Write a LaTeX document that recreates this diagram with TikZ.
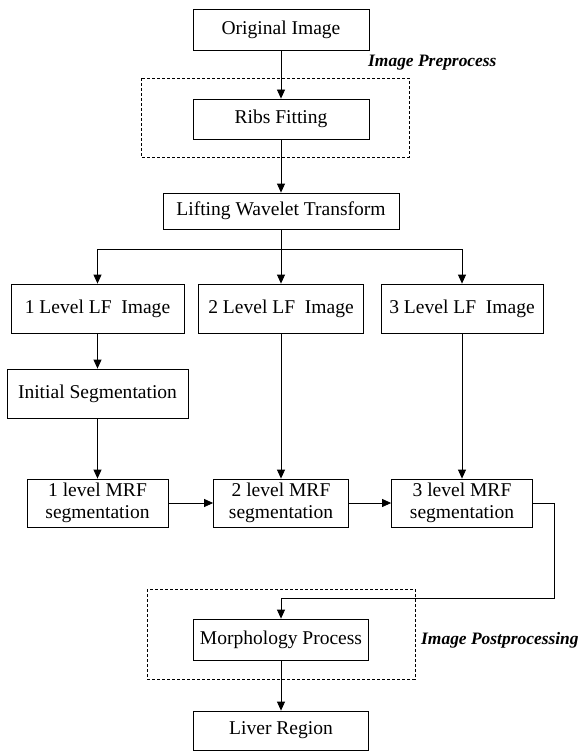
\documentclass[tikz,border=0pt]{standalone}
\usepackage{fontspec}
\setmainfont{Liberation Serif}
\usetikzlibrary{arrows.meta}
\tikzset{
  box/.style={draw, line width=0.8bp, inner sep=0pt, align=center,
    font=\fontsize{19.6}{22}\selectfont},
  arr/.style={line width=0.8bp, -{Triangle[length=9bp,width=8bp]}},
  ln/.style={line width=0.8bp},
  dbox/.style={draw, line width=0.7bp, dash pattern=on 3bp off 2bp},
  lbl/.style={anchor=west, inner sep=0pt, font=\fontsize{17.5}{20}\selectfont\bfseries\itshape}
}
\begin{document}
\begin{tikzpicture}[x=1bp,y=-1bp]
\useasboundingbox (0,0) rectangle (579,751);
% dashed groups
\draw[dbox] (141,78) rectangle (409,157);
\draw[dbox] (147,589) rectangle (415,679);
\node[lbl] (pre) at (368,63) {Image Preprocess};
\node[lbl] (post) at (421,640) {Image Postprocessing};
% nodes
\node[box, minimum width=176bp, minimum height=41bp] (orig) at (281,29.5) {Original Image};
\node[box, minimum width=176bp, minimum height=40bp] (ribs) at (281,119) {Ribs Fitting};
\node[box, minimum width=236bp, minimum height=36bp] (lift) at (281,211) {Lifting Wavelet Transform};
\node[box, minimum width=173bp, minimum height=49bp] (lf1) at (97.5,308.5) {1 Level LF~ Image};
\node[box, minimum width=165bp, minimum height=49bp] (lf2) at (281,308.5) {2 Level LF~ Image};
\node[box, minimum width=162bp, minimum height=49bp] (lf3) at (462,308.5) {3 Level LF~ Image};
\node[box, minimum width=181bp, minimum height=49bp] (init) at (97.5,393.5) {Initial Segmentation};
\node[box, minimum width=141bp, minimum height=48bp] (mrf1) at (97.5,503) {1 level MRF\\segmentation};
\node[box, minimum width=135bp, minimum height=48bp] (mrf2) at (281,503) {2 level MRF\\segmentation};
\node[box, minimum width=141bp, minimum height=48bp] (mrf3) at (462,503) {3 level MRF\\segmentation};
\node[box, minimum width=175bp, minimum height=41bp] (morph) at (281,639.5) {Morphology Process};
\node[box, minimum width=175bp, minimum height=39bp] (liver) at (281,730.5) {Liver Region};
% connectors
\coordinate (br) at (281,249);
\coordinate (rt) at (554,503);
\coordinate (rb) at (554,598);
\coordinate (mt) at (281,598);
\draw[arr] (orig) -- (ribs);
\draw[arr] (ribs) -- (lift);
\draw[arr] (lift) -- (lf2);
\draw[arr] (br) -| (lf1.north);
\draw[arr] (br) -| (lf3.north);
\draw[arr] (lf1) -- (init);
\draw[arr] (init) -- (mrf1);
\draw[arr] (lf2) -- (mrf2);
\draw[arr] (lf3) -- (mrf3);
\draw[arr] (mrf1) -- (mrf2);
\draw[arr] (mrf2) -- (mrf3);
\draw[ln] (mrf3.east) -- (rt) -- (rb) -- (mt);
\draw[arr] (mt) -- (morph);
\draw[arr] (morph) -- (liver);
\end{tikzpicture}
\end{document}
